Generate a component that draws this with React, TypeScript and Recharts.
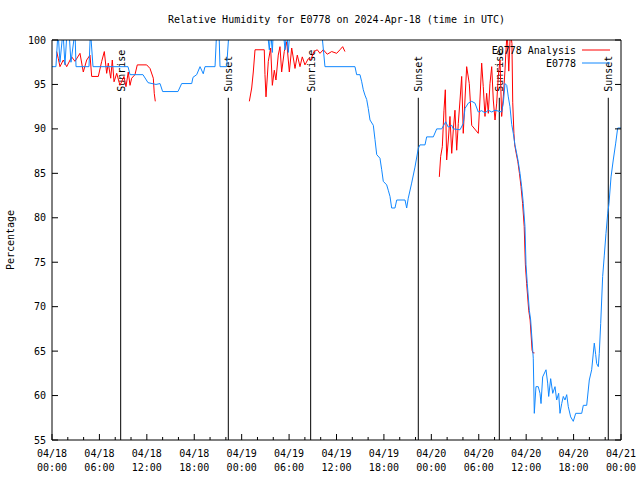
import React from "react";
import { LineChart, Line, XAxis, YAxis, ReferenceLine, Legend } from "recharts";

const FONT = '"DejaVu Sans Mono", monospace';
const RED = "#ff0000";
const BLUE = "#1188ff";

// hours since 04/18 00:00 UTC; ticks every 2h, labelled every 6h
const xTicks = [0, 2, 4, 6, 8, 10, 12, 14, 16, 18, 20, 22, 24, 26, 28, 30, 32, 34, 36, 38, 40, 42, 44, 46, 48, 50, 52, 54, 56, 58, 60, 62, 64, 66, 68, 70, 72];
const xMajorTicks = [0, 6, 12, 18, 24, 30, 36, 42, 48, 54, 60, 66, 72];
const dateLabels = ["04/18", "04/18", "04/18", "04/18", "04/19", "04/19", "04/19", "04/19", "04/20", "04/20", "04/20", "04/20", "04/21"];
const timeLabels = ["00:00", "06:00", "12:00", "18:00", "00:00", "06:00", "12:00", "18:00", "00:00", "06:00", "12:00", "18:00", "00:00"];
const yTicks = [55, 60, 65, 70, 75, 80, 85, 90, 95, 100];

const sunTimes = [8.69, 22.31, 32.73, 46.35, 56.6, 70.39];
const sunLabels = ["Sunrise", "Sunset", "Sunrise", "Sunset", "Sunrise", "Sunset"];

const seriesNames = ["E0778 Analysis", "E0778"];
const seriesColors = [RED, BLUE];

// E0778 Analysis (red) - nulls break the line
const analysisPoints: [number, number | null][] = [
  [0.59, 98.7], [0.8, 97.9], [1.01, 97.0], [1.43, 97.75], [1.86, 97.0], [2.49, 98.1], [2.91, 97.6], [3.54, 98.5],
  [3.96, 96.4], [4.39, 97.75], [4.81, 98.3], [5.02, 95.9], [5.86, 95.9], [6.29, 97.6], [6.62, 98.7], [6.92, 96.25],
  [7.12, 97.4], [7.43, 95.7], [7.63, 97.75], [7.85, 95.3], [8.19, 96.25], [8.6, 94.9], [9.11, 95.9], [9.36, 94.75],
  [9.65, 96.4], [9.87, 94.9], [10.08, 95.7], [10.5, 96.1], [10.79, 97.2], [11.98, 97.2], [12.4, 96.8], [12.82, 95.7],
  [12.94, 94.0], [13.07, 93.1], [18, null],
  [24.97, 93.1], [25.27, 94.6], [25.47, 96.4], [25.69, 98.9], [26.86, 98.9], [26.95, 96.1], [27.08, 93.6], [27.37, 97.6],
  [27.67, 99.1], [27.88, 94.9], [28.13, 96.6], [28.34, 95.5], [28.63, 98.3], [28.85, 99.25], [29.06, 96.4], [29.39, 98.7],
  [29.7, 99.8], [30.03, 96.4], [30.33, 99.1], [30.75, 96.8], [31.04, 98.3], [31.38, 97.0], [31.67, 98.1], [32.01, 97.2],
  [32.43, 97.9], [32.73, 97.75], [33.15, 98.7], [33.57, 98.9], [33.91, 98.5], [34.33, 98.9], [34.83, 98.4], [35.39, 98.7],
  [36.02, 98.5], [36.44, 98.9], [36.78, 99.25], [37.07, 98.7], [42, null],
  [49.01, 84.6], [49.18, 86.9], [49.39, 88.0], [49.6, 92.1], [49.77, 94.4], [49.94, 86.5], [50.15, 88.75], [50.36, 91.4],
  [50.58, 87.25], [50.78, 89.9], [50.99, 92.1], [51.21, 87.6], [51.41, 90.6], [51.63, 93.25], [51.84, 95.9], [52.04, 89.5],
  [52.47, 97.0], [52.8, 95.1], [53.11, 90.4], [53.94, 89.5], [54.15, 93.25], [54.37, 97.4], [54.57, 94.75], [54.79, 91.4],
  [55.0, 94.0], [55.21, 91.75], [55.42, 95.1], [55.64, 97.0], [55.84, 93.25], [56.06, 91.0], [56.27, 92.9], [56.47, 95.9],
  [56.69, 97.75], [56.9, 91.4], [57.11, 93.6], [57.32, 96.6], [57.45, 98.9], [57.6, 101], [57.8, 96.5], [58.0, 101],
  [58.2, 99.6], [58.3, 93.0], [58.45, 89.5], [58.55, 88.2], [58.75, 87.2], [58.95, 86.3], [59.15, 85.0], [59.35, 83.5],
  [59.55, 81.6], [59.75, 79.0], [59.9, 74.7], [60.06, 72.6], [60.32, 69.6], [60.5, 68.5], [60.75, 65.1], [60.85, 64.8],
  [61.05, 64.8],
];

// E0778 station observations (blue)
const stationPoints: [number, number][] = [
  [0, 97], [0.5, 97], [0.76, 101], [1.01, 97.5], [1.39, 101], [1.64, 97.2], [1.9, 101], [2.15, 101], [2.4, 97.5],
  [2.91, 101], [3.04, 97], [4.68, 97], [4.87, 101], [5.19, 97], [9.62, 97], [9.87, 96.1], [11.51, 96.1], [12.15, 95.2],
  [13.16, 95.0], [13.67, 95.1], [14.0, 94.2], [15.94, 94.2], [16.41, 95.1], [17.68, 95.1], [17.84, 95.8], [18.31, 96.1],
  [18.73, 97], [19.14, 96.2], [19.36, 97], [20.63, 97], [20.84, 101], [21.13, 101], [21.26, 97], [22.1, 97], [22.4, 101],
  [27.25, 101], [27.5, 98.9], [27.67, 101], [27.88, 98.6], [28.0, 101], [29.27, 101], [29.48, 98.9], [29.7, 101],
  [29.9, 98.6], [30.1, 101], [34.12, 101], [34.54, 97], [38.34, 97], [38.55, 96.1], [38.97, 96.1], [39.19, 95.3],
  [39.39, 94.4], [39.6, 93.8], [39.82, 93.3], [40.02, 92.3], [40.24, 91.0], [40.66, 90.4], [40.87, 88.8], [41.09, 87.1],
  [41.5, 86.7], [41.72, 85.4], [41.92, 84.1], [42.35, 83.7], [42.55, 83.1], [42.77, 82.4], [42.98, 81.1], [43.4, 81.1],
  [43.62, 82.0], [44.67, 82.0], [44.88, 81.1], [45.08, 82.2], [45.51, 83.9], [45.93, 85.7], [46.35, 87.8], [46.56, 88.2],
  [47.2, 88.2], [47.41, 89.1], [48.25, 89.1], [48.68, 90.0], [49.31, 90.0], [49.82, 90.8], [50.14, 90.2], [50.58, 90.4],
  [50.78, 90.0], [51.63, 89.9], [52.04, 90.6], [52.26, 92.3], [52.68, 92.9], [53.11, 93.1], [53.52, 92.9], [53.94, 91.9],
  [54.37, 92.05], [54.79, 91.8], [55.21, 92.1], [55.64, 91.9], [56.06, 92.1], [56.9, 91.9], [57.11, 92.9], [57.32, 95.1],
  [57.54, 94.9], [57.74, 93.6], [57.95, 92.5], [58.17, 90.5], [58.37, 89.5], [58.58, 88.2], [58.8, 87.25], [59.0, 86.3],
  [59.22, 85.0], [59.43, 83.5], [59.64, 81.6], [59.85, 79.0], [59.98, 74.7], [60.14, 72.6], [60.4, 69.6], [60.57, 68.5],
  [60.83, 65.1], [60.9, 64.2], [61.03, 58.0], [61.24, 61.0], [61.53, 61.0], [61.75, 60.25], [61.88, 59.1], [62.09, 62.1],
  [62.51, 62.9], [62.72, 61.4], [62.85, 59.9], [63.1, 61.9], [63.36, 60.25], [63.65, 61.0], [63.86, 59.5], [64.11, 60.25],
  [64.28, 58.0], [64.5, 59.1], [64.7, 59.9], [64.91, 59.5], [65.13, 60.1], [65.33, 58.75], [65.63, 57.6], [65.96, 57.1],
  [66.27, 58.0], [67.03, 58.0], [67.23, 58.9], [67.66, 58.9], [67.99, 61.75], [68.29, 62.9], [68.62, 65.9], [68.8, 64.6],
  [68.92, 63.6], [69.13, 63.25], [69.25, 64.75], [69.43, 68.1], [69.68, 73.4], [69.89, 75.8], [70.1, 78.25], [70.32, 80.5],
  [70.48, 81.6], [70.74, 84.6], [71.02, 86.5], [71.33, 88.4], [71.58, 90.1], [72, 90.1],
];

const analysisData = analysisPoints.map(([h, v]) => ({ h, v }));
const stationData = stationPoints.map(([h, v]) => ({ h, v }));

// inward tick marks drawn by the tick renderers (gnuplot style)
function BottomTick(props: any) {
  const { x, y, payload } = props;
  const i = xMajorTicks.indexOf(payload.value);
  const len = i >= 0 ? 6 : 3;
  return (
    <g>
      <line x1={x} x2={x} y1={y} y2={y - len} stroke="#000" />
      {i >= 0 && (
        <text x={x} y={y + 17} textAnchor="middle" fontFamily={FONT} fontSize={10} fill="#000">
          <tspan x={x}>{dateLabels[i]}</tspan>
          <tspan x={x} dy={14}>{timeLabels[i]}</tspan>
        </text>
      )}
    </g>
  );
}

function TopTick(props: any) {
  const { x, y, payload } = props;
  const len = xMajorTicks.indexOf(payload.value) >= 0 ? 6 : 3;
  return <line x1={x} x2={x} y1={y} y2={y + len} stroke="#000" />;
}

function LeftTick(props: any) {
  const { x, y, payload } = props;
  return (
    <g>
      <line x1={x} x2={x + 6} y1={y} y2={y} stroke="#000" />
      <text x={x - 6} y={y + 3.5} textAnchor="end" fontFamily={FONT} fontSize={10} fill="#000">
        {payload.value}
      </text>
    </g>
  );
}

function RightTick(props: any) {
  const { x, y } = props;
  return <line x1={x} x2={x - 6} y1={y} y2={y} stroke="#000" />;
}

const titleLabel = (props: any) => {
  const vb = props.viewBox;
  return (
    <text x={vb.x + vb.width / 2} y={23} textAnchor="middle" fontFamily={FONT} fontSize={10} fill="#000">
      Relative Humidity for E0778 on 2024-Apr-18 (time in UTC)
    </text>
  );
};

const yLabel = (props: any) => {
  const vb = props.viewBox;
  const x = 14;
  const y = vb.y + vb.height / 2;
  return (
    <text x={x} y={y} transform={`rotate(-90 ${x} ${y})`} textAnchor="middle" fontFamily={FONT} fontSize={10} fill="#000">
      Percentage
    </text>
  );
};

const sunLabel = (text: string) => (props: any) => {
  const vb = props.viewBox;
  const x = vb.x + 4;
  const y = vb.y - 6;
  return (
    <text x={x} y={y} transform={`rotate(-90 ${x} ${y})`} fontFamily={FONT} fontSize={10} fill="#000">
      {text}
    </text>
  );
};

function LegendBox() {
  return (
    <svg width={640} height={30}>
      {seriesNames.map((name, i) => (
        <g key={name}>
          <text x={576} y={13.5 + i * 13} textAnchor="end" fontFamily={FONT} fontSize={10} fill="#000">
            {name}
          </text>
          <line x1={582} x2={610} y1={10 + i * 13} y2={10 + i * 13} stroke={seriesColors[i]} strokeWidth={1} />
        </g>
      ))}
    </svg>
  );
}

export default function App() {
  const axisStroke = { stroke: "#000" };
  return (
    <div style={{ position: "absolute", left: 0, top: 0, background: "#fff" }}>
      <LineChart width={640} height={480} margin={{ top: 39, right: 18, bottom: 39, left: 51 }}>
        <XAxis
          xAxisId="b"
          type="number"
          dataKey="h"
          domain={[0, 72]}
          ticks={xTicks}
          interval={0}
          height={1}
          tickSize={0}
          tickMargin={0}
          tickLine={false}
          tick={<BottomTick />}
          axisLine={axisStroke}
          allowDataOverflow
        />
        <XAxis
          xAxisId="t"
          orientation="top"
          type="number"
          domain={[0, 72]}
          ticks={xTicks}
          interval={0}
          height={1}
          tickSize={0}
          tickMargin={0}
          tickLine={false}
          tick={<TopTick />}
          axisLine={axisStroke}
          allowDataOverflow
          label={titleLabel}
        />
        <YAxis
          yAxisId="l"
          type="number"
          domain={[55, 100]}
          ticks={yTicks}
          interval={0}
          width={1}
          tickSize={0}
          tickMargin={0}
          tickLine={false}
          tick={<LeftTick />}
          axisLine={axisStroke}
          allowDataOverflow
          label={yLabel}
        />
        <YAxis
          yAxisId="r"
          orientation="right"
          type="number"
          domain={[55, 100]}
          ticks={yTicks}
          interval={0}
          width={1}
          tickSize={0}
          tickMargin={0}
          tickLine={false}
          tick={<RightTick />}
          axisLine={axisStroke}
          allowDataOverflow
        />
        {sunTimes.map((h, i) => (
          <ReferenceLine
            key={i}
            xAxisId="b"
            yAxisId="l"
            segment={[{ x: h, y: 55 }, { x: h, y: 93.5 }]}
            stroke="#000"
            strokeWidth={1}
            label={sunLabel(sunLabels[i])}
          />
        ))}
        <Line
          xAxisId="b"
          yAxisId="l"
          data={analysisData}
          dataKey="v"
          name={seriesNames[0]}
          type="linear"
          stroke={RED}
          strokeWidth={1}
          dot={false}
          connectNulls={false}
          isAnimationActive={false}
        />
        <Line
          xAxisId="b"
          yAxisId="l"
          data={stationData}
          dataKey="v"
          name={seriesNames[1]}
          type="linear"
          stroke={BLUE}
          strokeWidth={1}
          dot={false}
          isAnimationActive={false}
        />
        <Legend
          layout="horizontal"
          verticalAlign="middle"
          align="center"
          wrapperStyle={{ top: 40, left: 0, width: 640, height: 30 }}
          content={() => <LegendBox />}
        />
      </LineChart>
    </div>
  );
}
